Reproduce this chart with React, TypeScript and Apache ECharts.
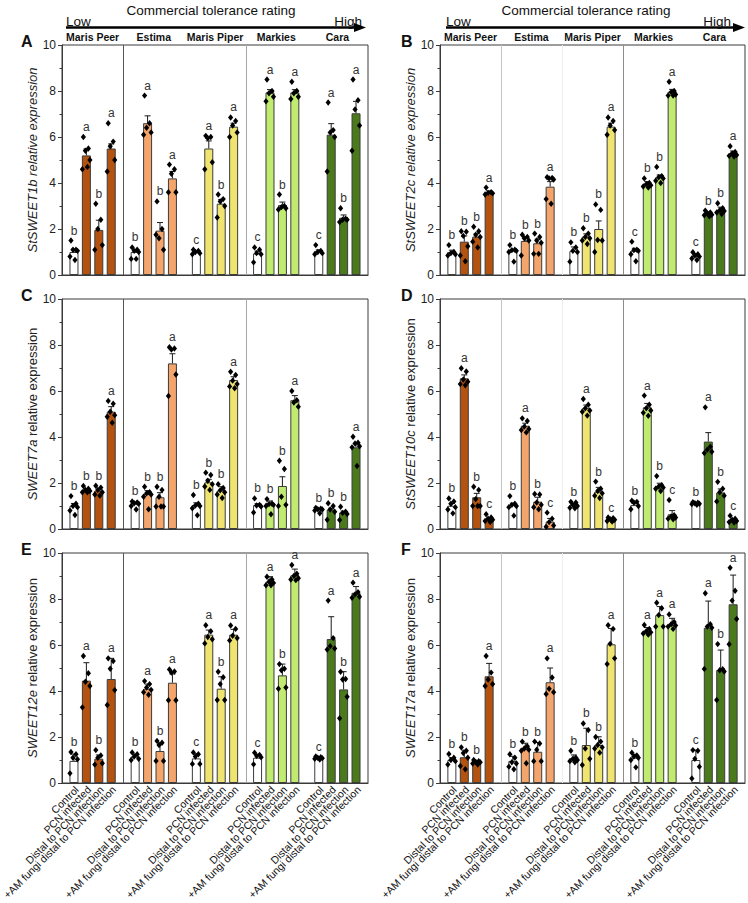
import React, { useEffect, useRef } from "react";
import * as echarts from "echarts";

// ---- categories ----
const varieties = ["Maris Peer", "Estima", "Maris Piper", "Markies", "Cara"];
const treatments = [
  "Control",
  "PCN infected",
  "Distal to PCN infection",
  "+AM fungi distal to PCN infection",
];
const varietyColors = ["#b4530f", "#f4a56b", "#efe470", "#c0ea70", "#4b7a1c"];
const yTickMax = 10;
const yTickStep = 2;

// ---- StSWEET1b ----
const sweet1bMeans = [
  [1.0, 5.2, 1.96, 5.5],
  [1.0, 6.6, 1.93, 4.2],
  [1.0, 5.5, 3.1, 6.45],
  [0.94, 7.94, 3.04, 7.94],
  [1.04, 6.1, 2.49, 7.03],
];
const sweet1bSE = [
  [0.12, 0.28, 0.42, 0.2],
  [0.08, 0.32, 0.35, 0.3],
  [0.05, 0.33, 0.18, 0.15],
  [0.1, 0.12, 0.13, 0.12],
  [0.05, 0.48, 0.12, 0.52],
];
const sweet1bLetters = [
  ["b", "a", "b", "a"],
  ["b", "a", "b", "a"],
  ["c", "a", "b", "a"],
  ["c", "a", "b", "a"],
  ["c", "a", "b", "a"],
];
const sweet1bPoints = [
  [[1.5, 1.1, 1.1, 1.05, 0.8, 0.65], [6.0, 5.5, 5.4, 5.0, 4.6, 4.7], [3.1, 2.4, 2.0, 1.3, 1.1], [6.6, 5.8, 5.6, 5.0, 4.5]],
  [[1.2, 1.1, 1.05, 1.0, 0.7, 0.7], [7.8, 6.6, 6.4, 6.2, 6.1], [3.2, 2.0, 1.6, 1.1, 1.75], [4.8, 4.6, 4.4, 3.6, 3.6]],
  [[1.1, 1.05, 1.0, 0.95, 0.9], [6.05, 6.0, 5.95, 4.9, 4.6], [3.5, 3.3, 3.2, 3.0, 2.5], [6.85, 6.7, 6.5, 6.2, 6.0]],
  [[1.2, 1.1, 0.95, 0.9, 0.55], [8.5, 8.0, 7.9, 7.75, 7.55], [3.5, 3.0, 2.95, 2.9, 2.85], [8.4, 8.0, 7.9, 7.75, 7.65]],
  [[1.3, 1.05, 1.0, 0.95, 0.9], [7.5, 6.3, 6.2, 6.0, 4.5], [2.9, 2.45, 2.4, 2.4, 2.3], [8.5, 7.6, 7.2, 6.5, 5.4]],
];

// ---- StSWEET2c ----
const sweet2cMeans = [
  [1.0, 1.45, 1.67, 3.58],
  [1.06, 1.48, 1.38, 3.84],
  [1.04, 1.67, 2.0, 6.45],
  [1.06, 3.96, 4.25, 7.97],
  [0.83, 2.68, 2.83, 5.29],
];
const sweet2cSE = [
  [0.08, 0.25, 0.13, 0.08],
  [0.05, 0.18, 0.18, 0.22],
  [0.18, 0.12, 0.35, 0.15],
  [0.1, 0.1, 0.1, 0.1],
  [0.1, 0.07, 0.12, 0.1],
];
const sweet2cLetters = [
  ["b", "b", "b", "a"],
  ["b", "b", "b", "a"],
  ["b", "b", "b", "a"],
  ["c", "b", "b", "a"],
  ["c", "b", "b", "a"],
];
const sweet2cPoints = [
  [[1.3, 1.0, 0.95, 0.9, 0.85], [1.9, 1.88, 1.7, 1.25, 0.85, 0.6], [2.1, 1.9, 1.75, 1.65, 1.45, 1.2], [3.8, 3.6, 3.57, 3.55, 3.5]],
  [[1.3, 1.1, 1.08, 1.05, 1.0, 0.58], [1.75, 1.65, 1.6, 1.5, 0.85], [1.8, 1.65, 1.5, 1.4, 0.92, 0.92], [4.25, 4.22, 4.2, 4.15, 3.3, 3.1]],
  [[1.42, 1.2, 1.05, 1.0, 0.58], [2.03, 1.8, 1.65, 1.6, 1.5, 1.35], [3.07, 2.83, 1.52, 1.5, 1.0], [6.85, 6.7, 6.5, 6.3, 6.1]],
  [[1.45, 1.1, 1.08, 1.05, 0.9, 0.6], [4.2, 4.0, 3.95, 3.9, 3.85, 3.8], [4.7, 4.3, 4.25, 4.2, 4.1, 4.0], [8.4, 8.0, 7.95, 7.85, 7.8, 7.8]],
  [[0.99, 0.9, 0.85, 0.8, 0.72, 0.65], [2.8, 2.72, 2.68, 2.62, 2.6, 2.55], [3.12, 2.9, 2.82, 2.78, 2.72, 2.65], [5.6, 5.35, 5.28, 5.22, 5.18, 5.15]],
];

// ---- SWEET7a ----
const sweet7aMeans = [
  [1.01, 1.7, 1.67, 5.1],
  [1.12, 1.52, 1.38, 7.2],
  [1.04, 2.03, 1.67, 6.48],
  [1.04, 1.14, 1.87, 5.6],
  [0.87, 0.85, 0.72, 3.55],
];
const sweet7aSE = [
  [0.1, 0.05, 0.06, 0.22],
  [0.05, 0.15, 0.2, 0.42],
  [0.1, 0.13, 0.17, 0.14],
  [0.06, 0.08, 0.4, 0.2],
  [0.03, 0.05, 0.06, 0.17],
];
const sweet7aLetters = [
  ["b", "b", "b", "a"],
  ["b", "b", "b", "a"],
  ["b", "b", "b", "a"],
  ["b", "b", "b", "a"],
  ["b", "b", "b", "a"],
];
const sweet7aPoints = [
  [[1.43, 1.1, 1.0, 0.95, 0.8, 0.61], [1.87, 1.75, 1.7, 1.65, 1.6, 1.6], [1.88, 1.8, 1.7, 1.6, 1.5, 1.45], [5.57, 5.45, 5.1, 4.95, 4.88, 4.62]],
  [[1.2, 1.15, 1.12, 1.1, 1.0, 0.85], [1.84, 1.6, 1.55, 1.5, 1.4, 0.86], [1.84, 1.7, 1.4, 0.98, 0.98, 0.98], [7.9, 7.85, 7.8, 6.72, 5.78]],
  [[1.48, 1.1, 1.02, 1.0, 0.9, 0.6], [2.45, 2.35, 2.1, 1.95, 1.85, 1.7], [1.95, 1.78, 1.68, 1.6, 1.5, 1.35], [6.84, 6.7, 6.45, 6.3, 6.2, 6.12]],
  [[1.33, 1.05, 1.02, 0.98, 0.72], [1.3, 1.1, 1.08, 1.05, 1.0, 0.64], [2.97, 2.61, 1.4, 1.05, 1.0], [6.0, 5.6, 5.5, 5.32]],
  [[0.92, 0.88, 0.86, 0.85, 0.8, 0.68], [1.12, 1.0, 0.85, 0.75, 0.4], [0.97, 0.75, 0.7, 0.65, 0.39], [4.01, 3.75, 3.72, 3.6, 3.55, 2.74]],
];

// ---- StSWEET10c ----
const sweet10cMeans = [
  [1.01, 6.55, 1.38, 0.43],
  [1.04, 4.49, 1.19, 0.32],
  [1.04, 5.25, 1.62, 0.42],
  [1.04, 5.29, 1.87, 0.64],
  [1.12, 3.8, 1.59, 0.39],
];
const sweet10cSE = [
  [0.1, 0.15, 0.17, 0.05],
  [0.08, 0.11, 0.19, 0.14],
  [0.05, 0.14, 0.19, 0.04],
  [0.08, 0.17, 0.12, 0.16],
  [0.02, 0.39, 0.15, 0.04],
];
const sweet10cLetters = [
  ["b", "a", "b", "c"],
  ["b", "a", "b", "c"],
  ["b", "a", "b", "c"],
  ["b", "a", "b", "c"],
  ["b", "a", "b", "c"],
];
const sweet10cPoints = [
  [[1.33, 1.2, 1.1, 0.95, 0.85, 0.68], [6.99, 6.85, 6.5, 6.4, 6.3, 6.25], [1.84, 1.7, 1.3, 1.0, 1.0, 1.0], [0.64, 0.5, 0.45, 0.4, 0.35, 0.3]],
  [[1.43, 1.1, 1.05, 1.0, 0.95, 0.58], [4.81, 4.7, 4.45, 4.35, 4.3, 4.2], [1.52, 1.5, 1.15, 1.05, 0.95, 0.86], [0.71, 0.45, 0.3, 0.15, 0.1]],
  [[1.18, 1.15, 1.05, 1.0, 0.92, 0.9], [5.65, 5.4, 5.25, 5.15, 5.1, 4.93], [2.06, 1.75, 1.65, 1.55, 1.45, 1.35], [0.5, 0.47, 0.43, 0.4, 0.35, 0.32]],
  [[1.23, 1.18, 1.15, 1.0, 0.86], [5.8, 5.4, 5.25, 5.15, 5.05, 4.92], [2.3, 1.9, 1.85, 1.8, 1.75, 1.65], [1.26, 0.6, 0.55, 0.5, 0.45, 0.42]],
  [[1.16, 1.14, 1.12, 1.1, 1.08, 1.05], [5.29, 3.58, 3.45, 3.36, 3.3], [2.05, 1.75, 1.6, 1.45, 1.2], [0.58, 0.45, 0.4, 0.35, 0.3, 0.28]],
];

// ---- SWEET12e ----
const sweet12eMeans = [
  [0.96, 4.45, 1.06, 4.52],
  [1.14, 4.1, 1.39, 4.36],
  [1.07, 6.45, 4.1, 6.45],
  [1.1, 8.75, 4.68, 9.03],
  [1.07, 6.26, 4.07, 8.27],
];
const sweet12eSE = [
  [0.3, 0.78, 0.16, 0.9],
  [0.12, 0.2, 0.35, 0.38],
  [0.2, 0.2, 0.52, 0.23],
  [0.15, 0.22, 0.49, 0.27],
  [0.05, 0.97, 0.77, 0.27],
];
const sweet12eLetters = [
  ["b", "a", "b", "a"],
  ["b", "a", "b", "a"],
  ["c", "a", "b", "a"],
  ["c", "a", "b", "a"],
  ["c", "a", "b", "a"],
];
const sweet12ePoints = [
  [[1.35, 1.25, 1.1, 1.03, 0.42], [5.52, 4.77, 4.4, 4.22, 3.29], [1.43, 1.2, 1.1, 0.86, 0.8], [5.42, 5.3, 4.97, 4.04, 3.39]],
  [[1.33, 1.25, 1.15, 1.05, 1.0], [4.43, 4.3, 4.15, 4.05, 3.95, 3.84], [1.83, 1.75, 1.65, 0.96, 0.96], [4.94, 4.85, 4.8, 3.6, 3.6]],
  [[1.33, 1.25, 1.15, 0.83, 0.83], [6.86, 6.6, 6.35, 6.25, 6.07], [4.84, 4.6, 4.3, 3.61, 3.61], [6.85, 6.7, 6.4, 6.3, 6.2]],
  [[1.32, 1.22, 1.18, 1.12, 0.81], [8.97, 8.85, 8.75, 8.7, 8.6, 8.6], [5.17, 4.97, 4.9, 4.15, 4.1], [9.48, 9.1, 9.0, 8.9, 8.85, 8.82]],
  [[1.15, 1.12, 1.1, 1.08, 1.05, 1.02], [7.93, 6.3, 5.95, 5.85, 5.8], [4.84, 4.52, 4.5, 3.75, 2.81], [8.71, 8.3, 8.2, 8.1, 8.05]],
];

// ---- SWEET17a ----
const sweet17aMeans = [
  [1.0, 1.12, 0.91, 4.64],
  [0.96, 1.48, 1.36, 4.38],
  [1.07, 1.65, 1.65, 6.03],
  [1.1, 6.61, 7.3, 6.87],
  [1.0, 6.75, 4.91, 7.77],
];
const sweet17aSE = [
  [0.1, 0.31, 0.05, 0.56],
  [0.2, 0.25, 0.4, 0.62],
  [0.15, 0.73, 0.36, 0.69],
  [0.15, 0.15, 0.37, 0.29],
  [0.43, 1.16, 0.87, 1.27],
];
const sweet17aLetters = [
  ["b", "b", "b", "a"],
  ["b", "b", "b", "a"],
  ["b", "b", "b", "a"],
  ["b", "a", "a", "a"],
  ["c", "a", "b", "a"],
];
const sweet17aPoints = [
  [[1.26, 1.1, 1.0, 0.95, 0.8], [1.55, 1.4, 1.3, 1.1, 0.74, 0.6], [1.0, 0.95, 0.92, 0.9, 0.85, 0.8], [5.52, 4.8, 4.5, 4.3, 4.22]],
  [[1.25, 1.1, 0.9, 0.85, 0.71, 0.6], [1.8, 1.6, 1.5, 1.45, 1.4, 0.86], [1.8, 1.72, 1.45, 0.95, 0.95], [5.42, 4.59, 4.1, 3.95, 3.87]],
  [[1.4, 1.1, 1.05, 1.0, 0.95, 0.9], [2.59, 2.3, 1.5, 1.05, 0.78], [2.0, 1.8, 1.65, 1.55, 1.5, 1.32], [6.86, 6.7, 6.05, 5.42, 5.17]],
  [[1.32, 1.2, 1.15, 1.1, 1.0, 0.68], [6.87, 6.7, 6.6, 6.55, 6.5, 6.45], [7.84, 7.6, 7.3, 6.8, 6.8], [7.33, 7.0, 6.9, 6.85, 6.8, 6.7]],
  [[1.43, 1.4, 1.05, 0.71, 0.2], [8.25, 6.9, 6.8, 6.75, 4.96], [6.04, 4.95, 4.9, 4.85, 3.61], [9.36, 8.36, 7.93, 7.13, 6.03]],
];

// ---- drawing constants ----
const FONT = "'Liberation Sans', Arial, Helvetica, sans-serif";
const BAR_W = 9;
const BAR_GAP = 0.38;
const PITCH = BAR_W * (1 + BAR_GAP);
const JITTER = [-3, 2, -1, 3.5, -4, 1, 4, -2];
const SEP_LEFT = ["#555555", null, "#a8a8a8", null];
const SEP_RIGHT = ["#c4c4c4", "#ededed", "#8c8c8c", null];

type Panel = {
  tag: string;
  left: number;
  top: number;
  width: number;
  gene: string;
  italicAll: boolean;
  means: number[][];
  se: number[][];
  letters: string[][];
  points: number[][][];
  seps: (string | null)[];
  topNames: boolean;
  bottomNames: boolean;
};

const panels: Panel[] = [
  { tag: "A", left: 62, top: 45, width: 306, gene: "StSWEET1b", italicAll: true, means: sweet1bMeans, se: sweet1bSE, letters: sweet1bLetters, points: sweet1bPoints, seps: SEP_LEFT, topNames: true, bottomNames: false },
  { tag: "B", left: 440, top: 45, width: 305, gene: "StSWEET2c", italicAll: true, means: sweet2cMeans, se: sweet2cSE, letters: sweet2cLetters, points: sweet2cPoints, seps: SEP_RIGHT, topNames: true, bottomNames: false },
  { tag: "C", left: 62, top: 299, width: 306, gene: "SWEET7a", italicAll: false, means: sweet7aMeans, se: sweet7aSE, letters: sweet7aLetters, points: sweet7aPoints, seps: SEP_LEFT, topNames: false, bottomNames: false },
  { tag: "D", left: 440, top: 299, width: 305, gene: "StSWEET10c", italicAll: false, means: sweet10cMeans, se: sweet10cSE, letters: sweet10cLetters, points: sweet10cPoints, seps: SEP_RIGHT, topNames: false, bottomNames: false },
  { tag: "E", left: 62, top: 553, width: 306, gene: "SWEET12e", italicAll: false, means: sweet12eMeans, se: sweet12eSE, letters: sweet12eLetters, points: sweet12ePoints, seps: SEP_LEFT, topNames: false, bottomNames: true },
  { tag: "F", left: 440, top: 553, width: 305, gene: "SWEET17a", italicAll: false, means: sweet17aMeans, se: sweet17aSE, letters: sweet17aLetters, points: sweet17aPoints, seps: SEP_RIGHT, topNames: false, bottomNames: true },
];

const PLOT_H = 230;

function buildOption() {
  const grid: any[] = [];
  const xAxis: any[] = [];
  const yAxis: any[] = [];
  const series: any[] = [];
  const graphic: any[] = [];

  panels.forEach((p, pi) => {
    grid.push({
      left: p.left,
      top: p.top,
      width: p.width,
      height: PLOT_H,
      show: true,
      borderColor: "#3a3a3a",
      borderWidth: 1,
      backgroundColor: "transparent",
    });
    xAxis.push({
      type: "category",
      gridIndex: pi,
      data: varieties,
      position: p.topNames ? "top" : "bottom",
      axisLine: { show: true, lineStyle: { color: "#3a3a3a" } },
      axisTick: { show: false },
      axisLabel: {
        show: p.topNames,
        interval: 0,
        margin: 3,
        fontFamily: FONT,
        fontWeight: "bold",
        fontSize: 10.5,
        color: "#111",
      },
      splitLine: { show: false },
    });
    yAxis.push({
      type: "value",
      gridIndex: pi,
      min: 0,
      max: yTickMax,
      interval: yTickStep,
      axisLine: { show: true, lineStyle: { color: "#3a3a3a" } },
      axisTick: { show: true, length: 4, lineStyle: { color: "#3a3a3a" } },
      minorTick: { show: true, splitNumber: 2, length: 2.5, lineStyle: { color: "#3a3a3a" } },
      splitLine: { show: false },
      axisLabel: { fontFamily: FONT, fontSize: 12, color: "#222", margin: 6 },
      name: p.italicAll
        ? `{i|${p.gene} relative expression}`
        : `{i|${p.gene}} relative expression`,
      nameLocation: "middle",
      nameGap: 15,
      nameTextStyle: {
        fontFamily: FONT,
        fontSize: 13,
        color: "#222",
        rich: { i: { fontFamily: FONT, fontSize: 13, fontStyle: "italic", color: "#222" } },
      },
    });

    // separators between cultivars, drawn behind the bars
    series.push({
      type: "custom",
      xAxisIndex: pi,
      yAxisIndex: pi,
      z: 1,
      silent: true,
      clip: false,
      data: p.seps.map((c, k) => [k + 1, 0]),
      renderItem: (params: any, api: any) => {
        const k = api.value(0) as number;
        const color = p.seps[k - 1];
        if (!color) return { type: "group", children: [] };
        const bandW = api.size([1, 0])[0];
        const [cx, y0] = api.coord([k, 0]);
        const [, y1] = api.coord([k, yTickMax]);
        const x = Math.round(cx - bandW / 2) + 0.5;
        return {
          type: "line",
          shape: { x1: x, y1: y0, x2: x, y2: y1 },
          style: { stroke: color, lineWidth: 1 },
        };
      },
    });

    // bars: one series per treatment
    treatments.forEach((t, j) => {
      series.push({
        type: "bar",
        name: t,
        xAxisIndex: pi,
        yAxisIndex: pi,
        z: 2,
        silent: true,
        barWidth: BAR_W,
        barGap: `${BAR_GAP * 100}%`,
        data: p.means.map((row, g) => ({
          value: row[j],
          itemStyle: {
            color: j === 0 ? "#ffffff" : varietyColors[g],
            borderColor: "#3c3c3c",
            borderWidth: 1,
          },
        })),
      });
    });

    // error bars, replicate points, significance letters, bottom labels
    const items: number[][] = [];
    varieties.forEach((_, g) => treatments.forEach((__, j) => items.push([g, j])));
    series.push({
      type: "custom",
      xAxisIndex: pi,
      yAxisIndex: pi,
      z: 5,
      silent: true,
      clip: false,
      data: items,
      renderItem: (params: any, api: any) => {
        const g = api.value(0) as number;
        const j = api.value(1) as number;
        const [c0, y0] = api.coord([g, 0]);
        const cx = c0 + (j - 1.5) * PITCH;
        const mean = p.means[g][j];
        const se = p.se[g][j];
        const pts = p.points[g][j];
        const [, yMean] = api.coord([g, mean]);
        const [, yTop] = api.coord([g, mean + se]);
        const children: any[] = [];
        children.push({
          type: "line",
          shape: { x1: cx, y1: yMean, x2: cx, y2: yTop },
          style: { stroke: "#1a1a1a", lineWidth: 1 },
        });
        children.push({
          type: "line",
          shape: { x1: cx - 3, y1: yTop, x2: cx + 3, y2: yTop },
          style: { stroke: "#1a1a1a", lineWidth: 1 },
        });
        pts.forEach((v, k) => {
          const [, py] = api.coord([g, v]);
          const px = cx + JITTER[k % JITTER.length];
          children.push({
            type: "polygon",
            shape: { points: [[px, py - 3.2], [px + 2.6, py], [px, py + 3.2], [px - 2.6, py]] },
            style: { fill: "#000" },
          });
        });
        const topV = Math.max(mean + se, ...pts);
        const [, ly] = api.coord([g, topV]);
        children.push({
          type: "text",
          x: cx,
          y: ly - 4,
          style: {
            text: p.letters[g][j],
            textAlign: "center",
            textVerticalAlign: "bottom",
            fontFamily: FONT,
            fontSize: 12,
            fill: "#333",
          },
        });
        if (p.bottomNames) {
          children.push({
            type: "text",
            x: cx + 3,
            y: y0 + 5,
            rotation: Math.PI / 4,
            style: {
              text: treatments[j],
              textAlign: "right",
              textVerticalAlign: "middle",
              fontFamily: FONT,
              fontSize: 10.5,
              fill: "#111",
            },
          });
        }
        return { type: "group", children };
      },
    });

    // panel tag
    graphic.push({
      type: "text",
      left: p.left < 200 ? 21 : 401,
      top: p.top - 12,
      style: { text: p.tag, fontFamily: FONT, fontSize: 16, fontWeight: "bold", fill: "#111" },
    });
  });

  // header: tolerance rating arrows over both columns
  const headers = [
    { cx: 211, x0: 66, x1: 362, head: 366 },
    { cx: 586, x0: 446, x1: 731, head: 745 },
  ];
  headers.forEach((h) => {
    graphic.push({
      type: "text",
      x: h.cx,
      y: 10,
      style: {
        text: "Commercial tolerance rating",
        textAlign: "center",
        textVerticalAlign: "middle",
        fontFamily: FONT,
        fontSize: 13.5,
        fill: "#111",
      },
    });
    graphic.push({
      type: "text",
      x: h.x0,
      y: 21,
      style: { text: "Low", textAlign: "left", textVerticalAlign: "middle", fontFamily: FONT, fontSize: 13.5, fill: "#111" },
    });
    graphic.push({
      type: "text",
      x: h.x1,
      y: 21,
      style: { text: "High", textAlign: "right", textVerticalAlign: "middle", fontFamily: FONT, fontSize: 13.5, fill: "#111" },
    });
    graphic.push({
      type: "line",
      shape: { x1: h.x0, y1: 27.5, x2: h.head - 10, y2: 27.5 },
      style: { stroke: "#000", lineWidth: 2.5 },
    });
    graphic.push({
      type: "polygon",
      shape: { points: [[h.head - 12, 23], [h.head, 27.5], [h.head - 12, 32]] },
      style: { fill: "#000" },
    });
  });

  return { animation: false, backgroundColor: "#ffffff", grid, xAxis, yAxis, series, graphic };
}

export default function App() {
  const ref = useRef<HTMLDivElement>(null);
  useEffect(() => {
    document.body.style.margin = "0";
    if (!ref.current) return;
    const chart = echarts.init(ref.current, undefined, { renderer: "svg" });
    chart.setOption(buildOption() as any);
    return () => chart.dispose();
  }, []);
  return <div ref={ref} style={{ width: 748, height: 903 }} />;
}
